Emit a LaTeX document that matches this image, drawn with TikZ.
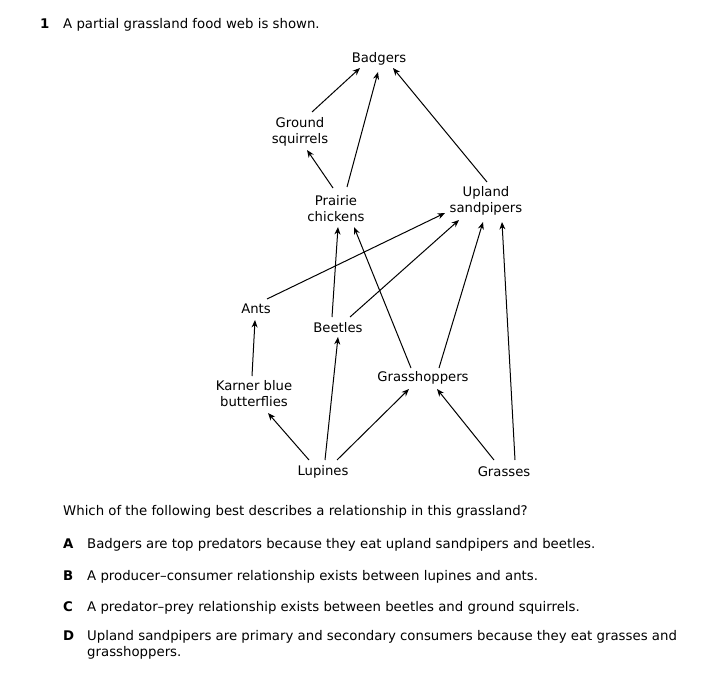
\documentclass[tikz,border=0pt]{standalone}
\usepackage{fontspec}
\setmainfont{DejaVu Sans}
\usetikzlibrary{arrows.meta}
\begin{document}
\begin{tikzpicture}[x=1pt,y=-1pt,
  lbl/.style={align=center,inner sep=0pt,font=\fontsize{13.2}{16}\selectfont},
  txt/.style={anchor=base west,inner sep=0pt,font=\fontsize{13.3}{16}\selectfont},
  num/.style={anchor=base west,inner sep=0pt,font=\fontsize{13.3}{16}\selectfont\bfseries},
  arr/.style={line width=1pt,-{Stealth[length=7.5pt,width=6pt]}}]
\useasboundingbox[fill=white] (0,0) rectangle (728,698);
% title
\node[num] (q1) at (40,29) {1};
\node[txt] (title) at (63,29) {A partial grassland food web is shown.};
% food web nodes
\node[lbl] (bad) at (379,59) {Badgers};
\node[lbl] (gs) at (300,132) {Ground\\squirrels};
\node[lbl] (pc) at (336,209) {Prairie\\chickens};
\node[lbl] (us) at (486,201) {Upland\\sandpipers};
\node[lbl] (ants) at (256,309) {Ants};
\node[lbl] (bee) at (338,328) {Beetles};
\node[lbl] (kb) at (254,394) {Karner blue\\butterflies};
\node[lbl] (gh) at (423,378) {Grasshoppers};
\node[lbl] (lup) at (323,472) {Lupines};
\node[lbl] (gr) at (504,472) {Grasses};
% arrows
\draw[arr] ([shift={(12,-20)}]gs.center) -- ([shift={(-19,9)}]bad.center);
\draw[arr] ([shift={(11,-22)}]pc.center) -- ([shift={(-1,13)}]bad.center);
\draw[arr] ([shift={(1,-19)}]us.center) -- ([shift={(14,9)}]bad.center);
\draw[arr] ([shift={(-3,-21)}]pc.center) -- ([shift={(7,18)}]gs.center);
\draw[arr] ([shift={(11,-10)}]ants.center) -- ([shift={(-41,12)}]us.center);
\draw[arr] ([shift={(12,-11)}]bee.center) -- ([shift={(-27,19)}]us.center);
\draw[arr] ([shift={(-6,-11)}]bee.center) -- ([shift={(2,18)}]pc.center);
\draw[arr] ([shift={(-12,-10)}]gh.center) -- ([shift={(18,18)}]pc.center);
\draw[arr] ([shift={(16,-10)}]gh.center) -- ([shift={(-3,21)}]us.center);
\draw[arr] ([shift={(11,-12)}]gr.center) -- ([shift={(16,21)}]us.center);
\draw[arr] ([shift={(-2,-18)}]kb.center) -- ([shift={(-1,11)}]ants.center);
\draw[arr] ([shift={(-14,-12)}]lup.center) -- ([shift={(14,19)}]kb.center);
\draw[arr] ([shift={(2,-12)}]lup.center) -- ([shift={(0,9)}]bee.center);
\draw[arr] ([shift={(14,-12)}]lup.center) -- ([shift={(-14,11)}]gh.center);
\draw[arr] ([shift={(-10,-12)}]gr.center) -- ([shift={(14,11)}]gh.center);
% question
\node[txt] (qq) at (63,515) {Which of the following best describes a relationship in this grassland?};
\node[num] (la) at (63,548.5) {A};
\node[txt] (ta) at (87,548.5) {Badgers are top predators because they eat upland sandpipers and beetles.};
\node[num] (lb) at (63,580.5) {B};
\node[txt] (tb) at (87,580.5) {A producer–consumer relationship exists between lupines and ants.};
\node[num] (lc) at (63,611) {C};
\node[txt] (tc) at (87,611) {A predator–prey relationship exists between beetles and ground squirrels.};
\node[num] (ld) at (63,640) {D};
\node[txt] (td) at (87,640) {Upland sandpipers are primary and secondary consumers because they eat grasses and};
\node[txt] (td2) at (87,656.5) {grasshoppers.};
\end{tikzpicture}
\end{document}
